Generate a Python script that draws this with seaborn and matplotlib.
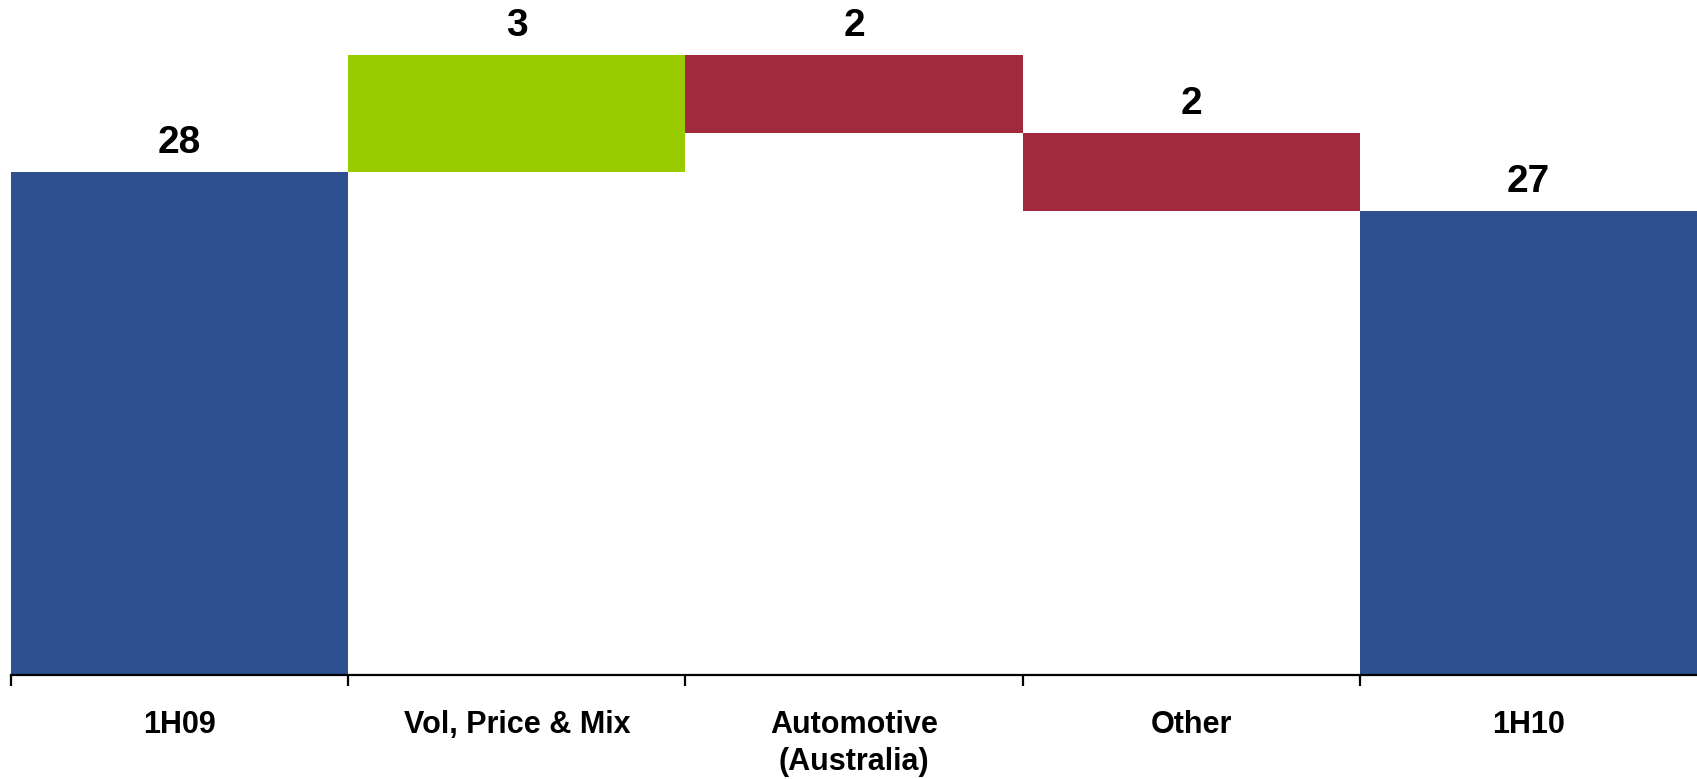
import matplotlib
matplotlib.use("Agg")
import matplotlib.pyplot as plt
import seaborn as sns
import pandas as pd
import numpy as np

# Waterfall: opening total, movements, closing total
categories = ["1H09", "Vol, Price & Mix", "Automotive\n(Australia)", "Other", "1H10"]
changes = [28, 3, -2, -2, 27]
kinds = ["total", "up", "down", "down", "total"]
value_labels = ["28", "3", "2", "2", "27"]

kind_colors = {"total": "#2E5090", "up": "#99CC00", "down": "#A12A3C"}

# Work out the floating segments
bottoms, tops = [], []
running = 0
for c, k in zip(changes, kinds):
    if k == "total":
        bottoms.append(0)
        tops.append(c)
        running = c
    else:
        start = running
        running = running + c
        bottoms.append(min(start, running))
        tops.append(max(start, running))

df = pd.DataFrame({"category": categories, "top": tops, "bottom": bottoms})

sns.set_theme(style="white")
plt.rcParams["font.family"] = ["Liberation Sans", "DejaVu Sans"]

fig = plt.figure(figsize=(16.97, 7.79), dpi=100)
ax = fig.add_axes([0.0065, 0.1335, 0.9935, 0.8665])

sns.barplot(data=df, x="category", y="top", hue="category",
            palette=[kind_colors[k] for k in kinds], width=1.0,
            legend=False, ax=ax, saturation=1.0)

# Lift the movement bars onto their running base
for patch, b, t in zip(ax.patches, bottoms, tops):
    patch.set_y(b)
    patch.set_height(t - b)
    patch.set_edgecolor("none")
    patch.set_linewidth(0)

for i, (t, lab) in enumerate(zip(tops, value_labels)):
    ax.annotate(lab, xy=(i, t), xytext=(0, 8), textcoords="offset points",
                ha="center", va="bottom", fontsize=28, fontweight="bold",
                color="black")

ax.set_xlim(-0.5, len(categories) - 0.5)
ax.set_ylim(15.1, 32.41)

ax.set_xlabel("")
ax.set_ylabel("")
ax.set_yticks([])
for side in ["top", "right", "left"]:
    ax.spines[side].set_visible(False)
ax.spines["bottom"].set_color("black")
ax.spines["bottom"].set_linewidth(1.6)

ax.set_xticks(range(len(categories)))
ax.set_xticklabels(categories, fontsize=22, fontweight="bold", linespacing=1.3)
ax.tick_params(axis="x", which="major", length=0, pad=25, colors="black")
ax.set_xticks(np.arange(len(categories)) - 0.5, minor=True)
ax.tick_params(axis="x", which="minor", length=8, width=1.6, direction="out",
               color="black", bottom=True)

fig.savefig("out.png", dpi=100, facecolor="white")
